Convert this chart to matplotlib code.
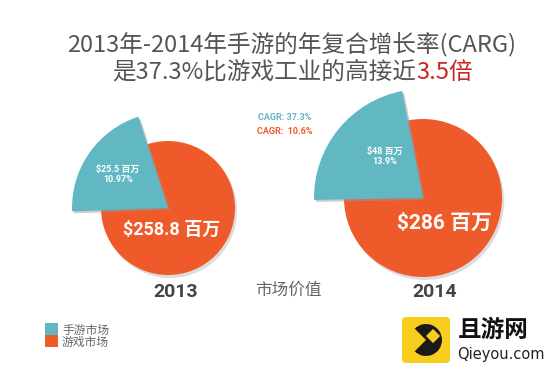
import matplotlib.pyplot as plt
from matplotlib.patches import Wedge, Circle, Rectangle, FancyBboxPatch

years = ['2013', '2014']
mobile_value = [25.5, 48]        # 手游市场, 百万美元
mobile_share = ['10.97%', '13.9%']
game_value = [258.8, 286]        # 游戏市场, 百万美元
cagr_labels = ['CAGR: 37.3%', 'CAGR:  10.6%']
legend_labels = ['手游市场', '游戏市场']

teal = '#62b8c2'
orange = '#ef5a2a'
grey = '#555555'

cjk = ['Noto Sans CJK SC', 'DejaVu Sans']
num = ['Roboto', 'Noto Sans CJK SC', 'DejaVu Sans']

fig = plt.figure(figsize=(5.58, 3.70), dpi=100)
ax = fig.add_axes([0, 0, 1, 1])
ax.set_xlim(0, 558)
ax.set_ylim(370, 0)
ax.axis('off')

# layout of the two pies (pixel space)
centers = [(168, 208), (423, 198)]
r_outer = [67, 79]
r_teal = [96, 109]
teal_angles = [(-182, -108), (-181, -101)]   # y axis points down
big_fs = [13, 15]

for i in range(2):
    cx, cy = centers[i]
    # soft shadow
    ax.add_patch(Circle((cx + 2, cy + 3), r_outer[i], color='#bbbbbb', alpha=0.5, lw=0))
    ax.add_patch(Circle((cx, cy), r_outer[i], color=orange, lw=0))
    a1, a2 = teal_angles[i]
    ax.add_patch(Wedge((cx + 2, cy + 2), r_teal[i], a1, a2, color='#999999', alpha=0.5, lw=0))
    ax.add_patch(Wedge((cx, cy), r_teal[i], a1, a2, color=teal, lw=0))

    ax.text(cx - 50 + (i * 12), cy - 39 - i * 8, f'${mobile_value[i]:g} 百万', color='white',
            fontsize=6.5, fontweight='bold', ha='center', va='center', family=num)
    ax.text(cx - 50 + (i * 12), cy - 28 - i * 8, mobile_share[i], color='white',
            fontsize=6.5, fontweight='bold', ha='center', va='center', family=num)
    ax.text(cx + 4 + i * 17, cy + 22 + i * 3, f'${game_value[i]:g} 百万', color='white',
            fontsize=big_fs[i], fontweight='bold', ha='center', va='center', family=num)
    ax.text(cx + 8 + i * 4, 292, years[i], color='#444444', fontsize=14,
            fontweight='bold', ha='center', va='center', family=num)

ax.text(288, 290, '市场价值', color='#666666', fontsize=12, ha='center', va='center',
        family=cjk, fontweight='light')

ax.text(285, 118, cagr_labels[0], color=teal, fontsize=6.5, fontweight='bold',
        ha='center', va='center', family=num)
ax.text(285, 131, cagr_labels[1], color=orange, fontsize=6.5, fontweight='bold',
        ha='center', va='center', family=num)

# title
ax.text(292, 45, '2013年-2014年手游的年复合增长率(CARG)', color=grey, fontsize=17,
        ha='center', va='center', family=cjk)
t_main = ax.text(112, 72, '是37.3%比游戏工业的高接近', color=grey, fontsize=17,
                 ha='left', va='center', family=cjk)
ax.annotate('3.5倍', xy=(1, 0.5), xycoords=t_main, xytext=(0, 0),
            textcoords='offset points', color='#cc2222', fontsize=17,
            ha='left', va='center', family=cjk)

# legend
for j, (lab, col) in enumerate(zip(legend_labels, [teal, orange])):
    ax.add_patch(Rectangle((45, 323 + j * 12), 13, 12, color=col, lw=0))
    ax.text(62, 330 + j * 12, lab, color='#666666', fontsize=8.5, ha='left',
            va='center', family=cjk)

# logo
ax.add_patch(FancyBboxPatch((402, 317), 48, 46, boxstyle='round,pad=0,rounding_size=4',
                            color='#f7cd1e', lw=0))
ax.add_patch(Wedge((426, 340), 16, -135, 135, color='#1a1a1a', lw=0))
ax.add_patch(Rectangle((426, 336), 10, 10, angle=-45, color='#f7cd1e', lw=0))
ax.text(458, 330, '且游网', color='#111111', fontsize=17, fontweight='bold',
        ha='left', va='center', family=cjk)
ax.text(457, 354, 'Qieyou.com', color='#222222', fontsize=10.5, ha='left',
        va='center', family=['DejaVu Sans'])

fig.savefig('out.png', dpi=100, facecolor='white')
